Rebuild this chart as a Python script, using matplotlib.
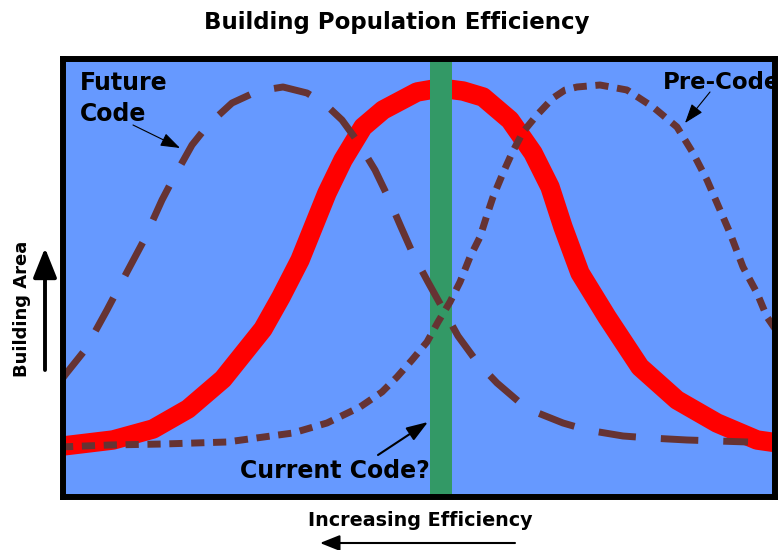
import matplotlib
matplotlib.use("Agg")
import matplotlib.pyplot as plt

# Curves (x = efficiency, y = building area, arbitrary units)
redX = [-3, 0, 50, 90, 125, 160, 200, 218, 237, 264, 280, 300, 320, 354, 377, 400, 420, 447, 470, 487, 500, 517, 544, 577, 614, 654, 694, 715]
redY = [51, 51, 57, 68, 88, 118, 168, 200, 237, 304, 337, 370, 387, 405, 409, 406, 400, 377, 344, 310, 270, 224, 180, 130, 97, 74, 57, 54]

futureX = [-3, 2, 22, 44, 64, 80, 99, 110, 129, 145, 169, 195, 220, 244, 262, 279, 295, 312, 325, 338, 350, 365, 380, 395, 414, 434, 455, 475, 500, 524, 560, 587, 624, 685]
futureY = [115, 122, 147, 187, 225, 255, 297, 318, 352, 372, 394, 406, 410, 404, 393, 377, 355, 327, 300, 270, 243, 215, 188, 161, 135, 114, 96, 84, 74, 67, 61, 59, 57, 55]

preX = [-3, 47, 100, 164, 230, 264, 297, 319, 334, 349, 364, 375, 387, 397, 407, 417, 424, 430, 440, 449, 460, 474, 490, 502, 514, 537, 564, 590, 614, 630, 644, 654, 667, 680, 694, 704, 715]
preY = [50, 52, 53, 55, 64, 74, 90, 105, 120, 137, 155, 175, 195, 215, 240, 260, 282, 300, 324, 344, 365, 382, 399, 407, 410, 412, 407, 390, 370, 344, 317, 294, 264, 230, 204, 180, 164]

currentCodeX = 378  # green marker
currentCodeWidth = 22

title = "Building Population Efficiency"
xLabel = "Increasing Efficiency"
yLabel = "Building Area"

blue = "#6699FF"
red = "#FF0000"
brown = "#663333"
green = "#339966"

fig = plt.figure(figsize=(7.78, 5.5), dpi=100)
ax = fig.add_axes([63 / 778, 53 / 550, 712 / 778, 438 / 550])
ax.set_facecolor(blue)
ax.set_xlim(0, 712)
ax.set_ylim(0, 438)
ax.set_xticks([])
ax.set_yticks([])
for s in ax.spines.values():
    s.set_linewidth(4.3)
    s.set_color("black")
    s.set_zorder(5)

# curves
ax.plot(redX, redY, color=red, lw=14, solid_capstyle="butt", solid_joinstyle="round", zorder=1.2)
ax.axvspan(currentCodeX - currentCodeWidth / 2, currentCodeX + currentCodeWidth / 2, color=green, lw=0, zorder=1.4)
ax.plot(futureX, futureY, color=brown, lw=5, dashes=(5.4, 3.6), dash_capstyle="butt", zorder=1.8)
ax.plot(preX, preY, color=brown, lw=5, dashes=(1.9, 1.25), dash_capstyle="butt", zorder=1.8)

# annotations
ax.text(17, 426, "Future\nCode", fontsize=17, fontweight="bold", va="top", ha="left", linespacing=1.35, zorder=3)
ax.annotate("", xy=(117, 349), xytext=(70, 372),
            arrowprops=dict(arrowstyle="-|>,head_length=1.0,head_width=0.35", mutation_scale=12,
                            color="black", lw=0.8, shrinkA=0, shrinkB=0), zorder=3)

# the reference runs this label into the right border
ax.text(600, 426, "Pre-Code", fontsize=16.5, fontweight="bold", va="top", ha="left", clip_on=True, zorder=3)
ax.annotate("", xy=(622, 374), xytext=(647, 405),
            arrowprops=dict(arrowstyle="-|>,head_length=1.0,head_width=0.35", mutation_scale=12,
                            color="black", lw=0.8, shrinkA=0, shrinkB=0), zorder=3)

ax.text(177, 19, "Current Code?", fontsize=17, fontweight="bold", va="baseline", ha="left", zorder=3)
ax.annotate("", xy=(365, 75), xytext=(315, 42),
            arrowprops=dict(arrowstyle="-|>,head_length=1.0,head_width=0.35", mutation_scale=13,
                            color="black", lw=1.5, shrinkA=0, shrinkB=0), zorder=3)

# title and axis labels with arrows
fig.text(397 / 778, 1 - 22 / 550, title, fontsize=16.5, fontweight="bold", ha="center", va="center")
fig.text(420 / 778, 1 - 520 / 550, xLabel, fontsize=13.8, fontweight="bold", ha="center", va="center")
fig.text(22 / 778, 1 - 309 / 550, yLabel, fontsize=13, fontweight="bold", ha="center", va="center", rotation=90)

ax.annotate("", xy=(45, 302), xytext=(45, 180), xycoords="figure pixels", textcoords="figure pixels",
            arrowprops=dict(arrowstyle="-|>,head_length=1.0,head_width=0.4", mutation_scale=18,
                            color="black", lw=2.8, shrinkA=0, shrinkB=0), annotation_clip=False)
ax.annotate("", xy=(320, 7), xytext=(515, 7), xycoords="figure pixels", textcoords="figure pixels",
            arrowprops=dict(arrowstyle="-|>,head_length=1.0,head_width=0.4", mutation_scale=12,
                            color="black", lw=1.5, shrinkA=0, shrinkB=0), annotation_clip=False)

fig.savefig("out.png", dpi=100)
